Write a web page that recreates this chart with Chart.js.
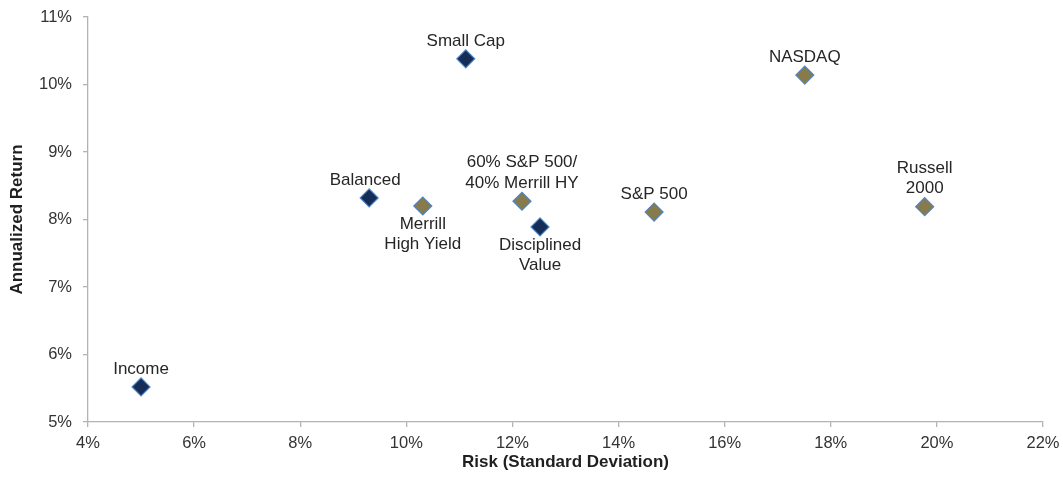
<!DOCTYPE html>
<html>
<head>
<meta charset="utf-8">
<script src="https://cdn.jsdelivr.net/npm/chart.js@4"></script>
<style>
  html, body { margin: 0; padding: 0; background: #fff; }
  #wrap { width: 1063px; height: 496px; }
</style>
</head>
<body>
<div id="wrap"><canvas id="riskChart"></canvas></div>
<script>
// strategies (dark diamonds)
const strategyNames = ['Income', 'Balanced', 'Small Cap', 'Disciplined\nValue'];
const strategyRisk = [5.0, 9.3, 11.12, 12.52];
const strategyReturn = [5.52, 8.32, 10.38, 7.89];

// benchmarks (gold diamonds)
const benchmarkNames = ['Merrill\nHigh Yield', '60% S&P 500/\n40% Merrill HY', 'S&P 500', 'NASDAQ', 'Russell\n2000'];
const benchmarkRisk = [10.31, 12.18, 14.67, 17.51, 19.77];
const benchmarkReturn = [8.20, 8.27, 8.11, 10.14, 8.19];

const xTicks = [4, 6, 8, 10, 12, 14, 16, 18, 20, 22];
const yTicks = [5, 6, 7, 8, 9, 10, 11];

// labels that sit under their point instead of above
const labelsBelow = ['Merrill\nHigh Yield', 'Disciplined\nValue'];

const toPoints = (xs, ys) => xs.map((x, i) => ({ x: x, y: ys[i] }));
const FONT = '"Liberation Sans", Arial, sans-serif';

const pointLabels = {
  id: 'pointLabels',
  afterDatasetsDraw(chart) {
    const ctx = chart.ctx;
    ctx.save();
    ctx.font = '17px ' + FONT;
    ctx.fillStyle = '#262626';
    ctx.textAlign = 'center';
    ctx.textBaseline = 'middle';
    const lineH = 20.5;
    chart.data.datasets.forEach((ds, di) => {
      const meta = chart.getDatasetMeta(di);
      meta.data.forEach((pt, i) => {
        const name = ds.names[i];
        const lines = name.split('\n');
        let dx = name === 'Balanced' ? -4 : 0;
        if (labelsBelow.includes(name)) {
          lines.forEach((l, k) => ctx.fillText(l, pt.x + dx, pt.y + 18 + k * lineH));
        } else {
          const n = lines.length;
          lines.forEach((l, k) => ctx.fillText(l, pt.x + dx, pt.y - 18 - (n - 1 - k) * lineH));
        }
      });
    });
    ctx.restore();
  }
};

new Chart(document.getElementById('riskChart'), {
  type: 'scatter',
  data: {
    datasets: [
      {
        label: 'Strategies',
        names: strategyNames,
        data: toPoints(strategyRisk, strategyReturn),
        pointStyle: 'rectRot',
        pointRadius: 9,
        pointBackgroundColor: '#152d57',
        pointBorderColor: '#4f86c6',
        pointBorderWidth: 1.2
      },
      {
        label: 'Benchmarks',
        names: benchmarkNames,
        data: toPoints(benchmarkRisk, benchmarkReturn),
        pointStyle: 'rectRot',
        pointRadius: 9,
        pointBackgroundColor: '#877a4b',
        pointBorderColor: '#4f86c6',
        pointBorderWidth: 1.2
      }
    ]
  },
  options: {
    responsive: true,
    maintainAspectRatio: false,
    animation: false,
    layout: { padding: { top: 17, right: 20, left: 0, bottom: 0 } },
    plugins: {
      legend: { display: false },
      tooltip: { enabled: false }
    },
    scales: {
      x: {
        type: 'linear',
        min: xTicks[0],
        max: xTicks[xTicks.length - 1],
        afterFit: s => { s.height = 74; s.paddingLeft = 0; s.paddingRight = 0; },
        afterBuildTicks: s => { s.ticks = xTicks.map(v => ({ value: v })); },
        ticks: {
          callback: v => v + '%',
          color: '#333',
          padding: 7,
          maxRotation: 0,
          font: { family: FONT, size: 16.5 }
        },
        grid: { drawOnChartArea: false, drawTicks: true, tickLength: 5, color: '#b3b3b3', lineWidth: 1.3 },
        border: { color: '#b3b3b3', width: 1.3 },
        title: {
          display: true,
          text: 'Risk (Standard Deviation)',
          color: '#1f1f1f',
          padding: { top: 0, bottom: 23 },
          font: { family: FONT, size: 17, weight: 'bold' }
        }
      },
      y: {
        type: 'linear',
        min: yTicks[0],
        max: yTicks[yTicks.length - 1],
        afterFit: s => { s.width = 88; s.paddingTop = 0; s.paddingBottom = 0; },
        afterBuildTicks: s => { s.ticks = yTicks.map(v => ({ value: v })); },
        ticks: {
          callback: v => v + '%',
          color: '#333',
          padding: 11,
          font: { family: FONT, size: 16.5 }
        },
        grid: { drawOnChartArea: false, drawTicks: true, tickLength: 5, color: '#b3b3b3', lineWidth: 1.3 },
        border: { color: '#b3b3b3', width: 1.3 },
        title: {
          display: true,
          text: 'Annualized Return',
          color: '#1f1f1f',
          padding: { top: 7, bottom: 0 },
          font: { family: FONT, size: 17, weight: 'bold' }
        }
      }
    }
  },
  plugins: [pointLabels]
});
</script>
</body>
</html>
